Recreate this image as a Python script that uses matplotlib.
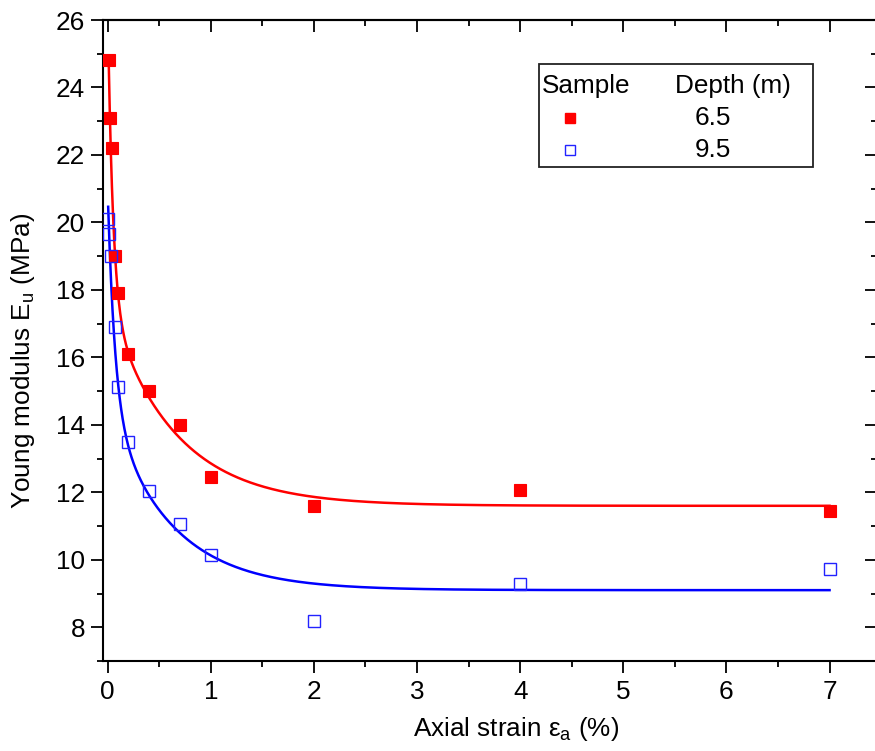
import numpy as np
import matplotlib
matplotlib.use("Agg")
import matplotlib.pyplot as plt
from matplotlib.patches import Rectangle
from matplotlib.ticker import MultipleLocator

plt.rcParams["font.family"] = ["Liberation Sans", "DejaVu Sans"]
plt.rcParams["mathtext.fontset"] = "custom"
plt.rcParams["mathtext.rm"] = "Liberation Sans"
plt.rcParams["font.size"] = 18.8

# measured points
strain_65 = [0.01, 0.02, 0.04, 0.07, 0.1, 0.2, 0.4, 0.7, 1.0, 2.0, 4.0, 7.0]
eu_65     = [24.8, 23.1, 22.2, 19.0, 17.9, 16.1, 15.0, 14.0, 12.45, 11.6, 12.07, 11.45]
strain_95 = [0.005, 0.01, 0.03, 0.07, 0.1, 0.2, 0.4, 0.7, 1.0, 2.0, 4.0, 7.0]
eu_95     = [20.1, 19.65, 19.0, 16.9, 15.12, 13.5, 12.05, 11.05, 10.15, 8.2, 9.27, 9.72]

# ExpDec2 fit parameters (y0, A1, t1, A2, t2)
fit_65 = (11.6, 8.95, 0.049, 6.0, 0.64)
fit_95 = (9.1, 6.4, 0.07, 5.45, 0.6)

depths = ["6.5", "9.5"]


def expdec2(x, p):
    y0, a1, t1, a2, t2 = p
    return y0 + a1 * np.exp(-x / t1) + a2 * np.exp(-x / t2)


fig = plt.figure(figsize=(8.75, 7.51), dpi=100)
ax = fig.add_axes([102.5 / 875, 90 / 751, (877 - 102.5) / 875, 641 / 751])

xs = np.linspace(strain_65[0], strain_65[-1], 2000)
ax.plot(xs, expdec2(xs, fit_65), color="#ff0000", lw=1.8, zorder=2)
xs = np.linspace(strain_95[0], strain_95[-1], 2000)
ax.plot(xs, expdec2(xs, fit_95), color="#0000ff", lw=1.8, zorder=2)

ax.plot(strain_65, eu_65, "s", ms=8.5, mfc="#ff0000", mec="#ff0000", mew=0.8, zorder=3)
ax.plot(strain_95, eu_95, "s", ms=8.0, mfc="none", mec="#2222ff", mew=1.0, zorder=3)

ax.set_xlim(-0.05, 7.46)
ax.set_ylim(7, 26)
ax.xaxis.set_major_locator(MultipleLocator(1))
ax.xaxis.set_minor_locator(MultipleLocator(0.5))
ax.yaxis.set_major_locator(MultipleLocator(2))
ax.yaxis.set_minor_locator(MultipleLocator(1))

for s in ax.spines.values():
    s.set_linewidth(1.5)
ax.tick_params(which="major", length=8.5, width=1.3)
ax.tick_params(which="minor", length=4.5, width=1.3)
ax.tick_params(axis="x", which="both", direction="out", pad=5)
ax.tick_params(axis="y", which="both", direction="out", pad=4)
# inward ticks on top and right, no labels
tx = ax.secondary_xaxis("top")
tx.xaxis.set_major_locator(MultipleLocator(1))
tx.xaxis.set_minor_locator(MultipleLocator(0.5))
tx.tick_params(which="both", direction="in", labeltop=False, width=1.3)
tx.tick_params(which="major", length=8.5)
tx.tick_params(which="minor", length=4.5)
tx.spines["top"].set_linewidth(1.5)
ty = ax.secondary_yaxis("right")
ty.yaxis.set_major_locator(MultipleLocator(2))
ty.yaxis.set_minor_locator(MultipleLocator(1))
ty.tick_params(which="both", direction="in", labelright=False, width=1.3)
ty.tick_params(which="major", length=8.5)
ty.tick_params(which="minor", length=4.5)

ax.set_xlabel(r"Axial strain ε$_\mathrm{a}$ (%)")
ax.xaxis.set_label_coords(0.534, -0.085)
ax.set_ylabel(r"Young modulus E$_\mathrm{u}$ (MPa)")
ax.yaxis.set_label_coords(-0.085, 0.468)


def ax_x(px):
    return (px - 102.5) / 774.5


def ax_y(py):
    return (661 - py) / 641


# legend box drawn by hand (two-column header)
box = Rectangle((ax_x(539), ax_y(167)), ax_x(813) - ax_x(539), ax_y(64) - ax_y(167),
                transform=ax.transAxes, fill=False, lw=1.3, edgecolor="#222222", zorder=4)
ax.add_patch(box)
ax.text(ax_x(542), ax_y(86), "Sample", transform=ax.transAxes, ha="left", va="center")
ax.text(ax_x(675), ax_y(86), "Depth (m)", transform=ax.transAxes, ha="left", va="center")
for py, label, kw in [(118, depths[0], dict(mfc="#ff0000", mec="#ff0000")),
                      (150, depths[1], dict(mfc="none", mec="#2222ff"))]:
    ax.plot([ax_x(570)], [ax_y(py)], "s", ms=7, mew=1.0, transform=ax.transAxes,
            clip_on=False, zorder=5, **kw)
    ax.text(ax_x(713), ax_y(py), label, transform=ax.transAxes, ha="center", va="center")

fig.savefig("out.png", dpi=100)
